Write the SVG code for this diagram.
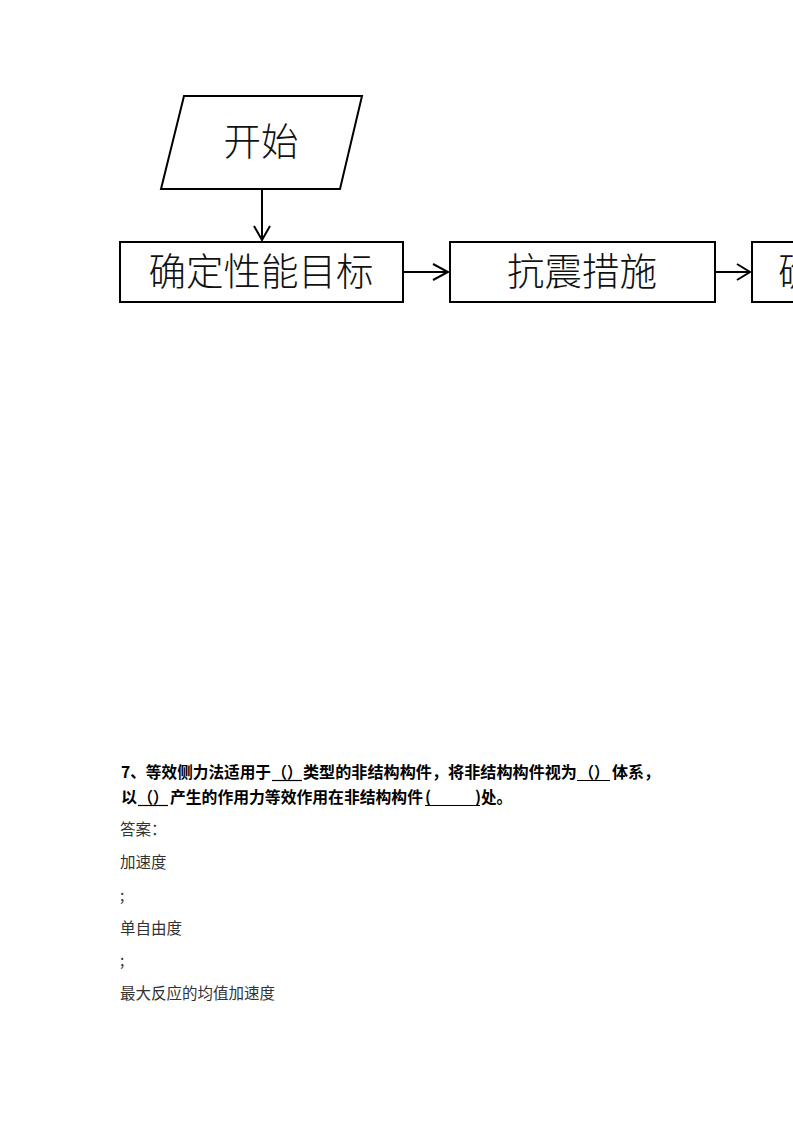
<svg xmlns="http://www.w3.org/2000/svg" width="793" height="1122" viewBox="0 0 793 1122">
<style>
.shape{fill:#fff;stroke:#000;stroke-width:2}
.conn{fill:none;stroke:#000;stroke-width:2}
.big{font-family:"Noto Sans CJK SC","Liberation Sans",sans-serif;font-size:37.5px;font-weight:300;fill:#111}
.q{font-family:"Noto Sans CJK SC","Liberation Sans",sans-serif;font-size:16px;font-weight:bold;fill:#000}
.a{font-family:"Noto Sans CJK SC","Liberation Serif",serif;font-size:15.5px;fill:#333}
.ul{stroke:#000;stroke-width:1.2}
</style>
<rect width="793" height="1122" fill="#fff"/>
<g id="start">
<polygon class="shape" points="184,96 362,96 340,189 161,189"/>
<text class="big" x="261" y="155" text-anchor="middle">开始</text>
</g>
<g id="goal">
<rect class="shape" x="120" y="242" width="283" height="60"/>
<text class="big" x="261" y="285" text-anchor="middle">确定性能目标</text>
</g>
<g id="measures">
<rect class="shape" x="450" y="242" width="265" height="60"/>
<text class="big" x="582" y="285" text-anchor="middle">抗震措施</text>
</g>
<g id="next">
<rect class="shape" x="752" y="242" width="60" height="60"/>
<text class="big" x="778" y="285">确</text>
</g>
<g id="connectors">
<path class="conn" d="M262,189 V240 M254,226 L262,240 L270,226"/>
<path class="conn" d="M403,272 H448 M433,264 L448,272 L433,280"/>
<path class="conn" d="M715,272 H750 M737,264 L750,272 L737,280"/>
</g>
<g id="question">
<text class="q" x="121" y="778" textLength="150" lengthAdjust="spacingAndGlyphs">7、等效侧力法适用于</text>
<text class="q" x="272" y="778" textLength="30" lengthAdjust="spacingAndGlyphs">（）</text>
<line class="ul" x1="272" y1="780.5" x2="302" y2="780.5"/>
<text class="q" x="303" y="778" textLength="274" lengthAdjust="spacingAndGlyphs">类型的非结构构件，将非结构构件视为</text>
<text class="q" x="579" y="778" textLength="30" lengthAdjust="spacingAndGlyphs">（）</text>
<line class="ul" x1="577" y1="780.5" x2="610" y2="780.5"/>
<text class="q" x="612" y="778" textLength="48" lengthAdjust="spacingAndGlyphs">体系，</text>
<text class="q" x="121" y="803">以</text>
<text class="q" x="138" y="803" textLength="30" lengthAdjust="spacingAndGlyphs">（）</text>
<line class="ul" x1="138" y1="805.5" x2="168" y2="805.5"/>
<text class="q" x="170" y="803" textLength="253" lengthAdjust="spacingAndGlyphs">产生的作用力等效作用在非结构构件</text>
<text class="q" x="425" y="803">(</text>
<line class="ul" x1="425" y1="805.5" x2="480" y2="805.5"/>
<text class="q" x="475" y="803">)</text>
<text class="q" x="481" y="803" textLength="31" lengthAdjust="spacingAndGlyphs">处。</text>
</g>
<g id="answer">
<text class="a" x="120" y="835">答案：</text>
<text class="a" x="120" y="868">加速度</text>
<text class="a" x="120" y="901">;</text>
<text class="a" x="120" y="934">单自由度</text>
<text class="a" x="120" y="966">;</text>
<text class="a" x="120" y="999">最大反应的均值加速度</text>
</g>
</svg>
